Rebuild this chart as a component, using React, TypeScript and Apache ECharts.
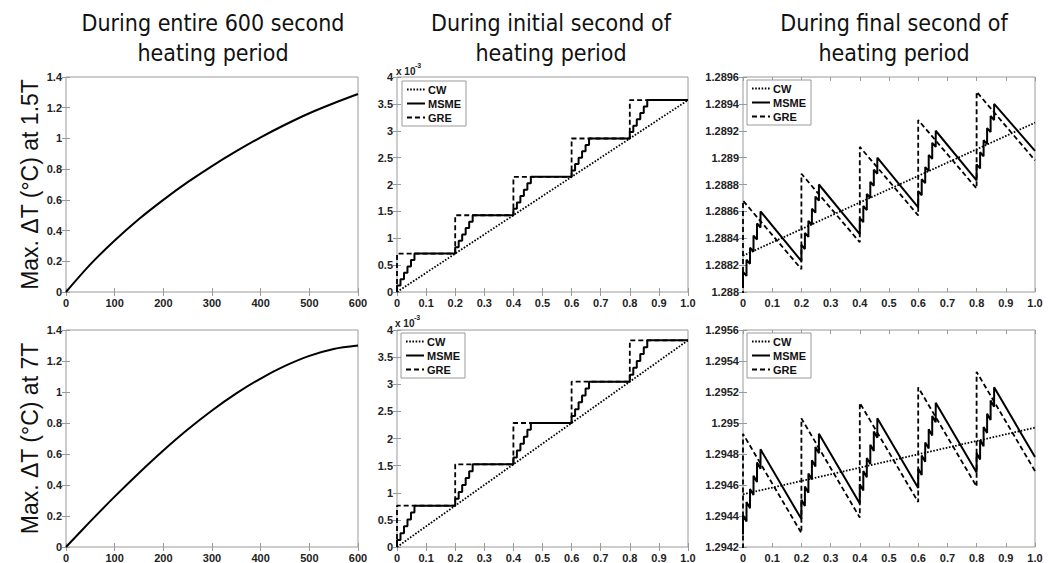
import React, { useEffect, useRef } from "react";
import * as echarts from "echarts";

// ---------------- DATA ----------------
// Left column: whole 600 s heating period (seconds, °C)
const entireTime = [0, 50, 100, 150, 200, 250, 300, 350, 400, 450, 500, 550, 600];
const entire15T = [0, 0.18, 0.335, 0.475, 0.6, 0.715, 0.82, 0.917, 1.007, 1.089, 1.164, 1.229, 1.289];
const entire7T = [0, 0.165, 0.325, 0.478, 0.623, 0.758, 0.881, 0.991, 1.087, 1.168, 1.233, 1.278, 1.3];

// Middle column: initial second (values in units of 1e-3 °C); step lines (jump time, level after jump)
const initCW15 = [[0, 0], [1.0, 3.57]];
const initMSME15 = [
  [0, 0], [0, 0.119], [0.012, 0.238], [0.024, 0.357], [0.036, 0.476], [0.048, 0.595], [0.06, 0.714],
  [0.2, 0.833], [0.212, 0.952], [0.224, 1.071], [0.236, 1.19], [0.248, 1.309], [0.26, 1.428],
  [0.4, 1.547], [0.412, 1.666], [0.424, 1.785], [0.436, 1.904], [0.448, 2.023], [0.46, 2.142],
  [0.6, 2.261], [0.612, 2.38], [0.624, 2.499], [0.636, 2.618], [0.648, 2.737], [0.66, 2.856],
  [0.8, 2.975], [0.812, 3.094], [0.824, 3.213], [0.836, 3.332], [0.848, 3.451], [0.86, 3.57],
  [1.0, 3.57],
];
const initGRE15 = [[0, 0], [0, 0.714], [0.2, 1.428], [0.4, 2.142], [0.6, 2.856], [0.8, 3.57], [1.0, 3.57]];

const initCW7 = [[0, 0], [1.0, 3.81]];
const initMSME7 = [
  [0, 0], [0, 0.127], [0.012, 0.254], [0.024, 0.381], [0.036, 0.508], [0.048, 0.635], [0.06, 0.762],
  [0.2, 0.889], [0.212, 1.016], [0.224, 1.143], [0.236, 1.27], [0.248, 1.397], [0.26, 1.524],
  [0.4, 1.651], [0.412, 1.778], [0.424, 1.905], [0.436, 2.032], [0.448, 2.159], [0.46, 2.286],
  [0.6, 2.413], [0.612, 2.54], [0.624, 2.667], [0.636, 2.794], [0.648, 2.921], [0.66, 3.048],
  [0.8, 3.175], [0.812, 3.302], [0.824, 3.429], [0.836, 3.556], [0.848, 3.683], [0.86, 3.81],
  [1.0, 3.81],
];
const initGRE7 = [[0, 0], [0, 0.762], [0.2, 1.524], [0.4, 2.286], [0.6, 3.048], [0.8, 3.81], [1.0, 3.81]];

// Right column: final second (°C)
const finalCW15 = [[0, 1.28827], [1.0, 1.28926]];
const finalMSME15 = [
  [0, 1.28803], [0, 1.28815], [0.012, 1.28812], [0.012, 1.28824], [0.024, 1.28821], [0.024, 1.28833],
  [0.036, 1.2883], [0.036, 1.28842], [0.048, 1.28839], [0.048, 1.28851], [0.06, 1.28848], [0.06, 1.2886],
  [0.2, 1.28823], [0.2, 1.28835], [0.212, 1.28832], [0.212, 1.28844], [0.224, 1.28841], [0.224, 1.28853],
  [0.236, 1.2885], [0.236, 1.28862], [0.248, 1.28859], [0.248, 1.28871], [0.26, 1.28868], [0.26, 1.2888],
  [0.4, 1.28843], [0.4, 1.28855], [0.412, 1.28852], [0.412, 1.28864], [0.424, 1.28861], [0.424, 1.28873],
  [0.436, 1.2887], [0.436, 1.28882], [0.448, 1.28879], [0.448, 1.28891], [0.46, 1.28888], [0.46, 1.289],
  [0.6, 1.28863], [0.6, 1.28875], [0.612, 1.28872], [0.612, 1.28884], [0.624, 1.28881], [0.624, 1.28893],
  [0.636, 1.2889], [0.636, 1.28902], [0.648, 1.28899], [0.648, 1.28911], [0.66, 1.28908], [0.66, 1.2892],
  [0.8, 1.28883], [0.8, 1.28895], [0.812, 1.28892], [0.812, 1.28904], [0.824, 1.28901], [0.824, 1.28913],
  [0.836, 1.2891], [0.836, 1.28922], [0.848, 1.28919], [0.848, 1.28931], [0.86, 1.28928], [0.86, 1.2894],
  [1.0, 1.28905],
];
const finalGRE15 = [
  [0, 1.28797], [0, 1.28868], [0.2, 1.28817], [0.2, 1.28888], [0.4, 1.28837], [0.4, 1.28908],
  [0.6, 1.28857], [0.6, 1.28928], [0.8, 1.28877], [0.8, 1.28949], [1.0, 1.28898],
];

const finalCW7 = [[0, 1.29454], [1.0, 1.29497]];
const finalMSME7 = [
  [0, 1.29428], [0, 1.294405], [0.012, 1.294365], [0.012, 1.29449], [0.024, 1.29445], [0.024, 1.294575],
  [0.036, 1.294535], [0.036, 1.29466], [0.048, 1.29462], [0.048, 1.294745], [0.06, 1.294705], [0.06, 1.29483],
  [0.2, 1.29438], [0.2, 1.294505], [0.212, 1.294465], [0.212, 1.29459], [0.224, 1.29455], [0.224, 1.294675],
  [0.236, 1.294635], [0.236, 1.29476], [0.248, 1.29472], [0.248, 1.294845], [0.26, 1.294805], [0.26, 1.29493],
  [0.4, 1.29448], [0.4, 1.294605], [0.412, 1.294565], [0.412, 1.29469], [0.424, 1.29465], [0.424, 1.294775],
  [0.436, 1.294735], [0.436, 1.29486], [0.448, 1.29482], [0.448, 1.294945], [0.46, 1.294905], [0.46, 1.29503],
  [0.6, 1.29458], [0.6, 1.294705], [0.612, 1.294665], [0.612, 1.29479], [0.624, 1.29475], [0.624, 1.294875],
  [0.636, 1.294835], [0.636, 1.29496], [0.648, 1.29492], [0.648, 1.295045], [0.66, 1.295005], [0.66, 1.29513],
  [0.8, 1.29468], [0.8, 1.294805], [0.812, 1.294765], [0.812, 1.29489], [0.824, 1.29485], [0.824, 1.294975],
  [0.836, 1.294935], [0.836, 1.29506], [0.848, 1.29502], [0.848, 1.295145], [0.86, 1.295105], [0.86, 1.29523],
  [1.0, 1.29478],
];
const finalGRE7 = [
  [0, 1.29419], [0, 1.29493], [0.2, 1.29429], [0.2, 1.29503], [0.4, 1.29439], [0.4, 1.29513],
  [0.6, 1.29449], [0.6, 1.29523], [0.8, 1.29459], [0.8, 1.29533], [1.0, 1.29469],
];

const columnTitles = [
  ["During entire 600 second", "heating period"],
  ["During initial second of", "heating period"],
  ["During final second of", "heating period"],
];
const rowLabels = ["Max. \u0394T (\u00B0C) at 1.5T", "Max. \u0394T (\u00B0C) at 7T"];
const legendNames = ["CW", "MSME", "GRE"];

// ---------------- STYLE / LAYOUT ----------------
const tickFont = "'Liberation Sans', Arial, sans-serif";
const titleFont = "'Liberation Sans Narrow', 'DejaVu Sans Condensed', 'Open Sans', sans-serif";
const frame = "#9a9a9a";

const colLeft = [66, 397, 743];
const colWidth = [292, 291, 292];
const rowTop = [77, 330];
const rowHeight = [215, 218];
const colCenter = [213, 551, 894];

const fmt1 = (v: number) => String(parseFloat(v.toFixed(1)));
const fmtX1 = (v: number) => (v === 0 ? "0" : v.toFixed(1));
const fmt4 = (v: number) => String(parseFloat(v.toFixed(4)));

export default function App() {
  const ref = useRef<HTMLDivElement>(null);

  useEffect(() => {
    document.body.style.margin = "0";
    if (!ref.current) return;
    const chart = echarts.init(ref.current, undefined, { renderer: "svg" });

    const axesSpec = [
      { x: { min: 0, max: 600, interval: 100, f: (v: number) => String(v) }, y: { min: 0, max: 1.4, interval: 0.2, f: fmt1 } },
      { x: { min: 0, max: 1, interval: 0.1, f: fmtX1 }, y: { min: 0, max: 4, interval: 0.5, f: fmt1 } },
      { x: { min: 0, max: 1, interval: 0.1, f: fmtX1 }, y: { min: 1.288, max: 1.2896, interval: 0.0002, f: fmt4 } },
      { x: { min: 0, max: 600, interval: 100, f: (v: number) => String(v) }, y: { min: 0, max: 1.4, interval: 0.2, f: fmt1 } },
      { x: { min: 0, max: 1, interval: 0.1, f: fmtX1 }, y: { min: 0, max: 4, interval: 0.5, f: fmt1 } },
      { x: { min: 0, max: 1, interval: 0.1, f: fmtX1 }, y: { min: 1.2942, max: 1.2956, interval: 0.0002, f: fmt4 } },
    ];

    const grids: any[] = [];
    const xAxes: any[] = [];
    const yAxes: any[] = [];
    axesSpec.forEach((a, i) => {
      const r = Math.floor(i / 3);
      const c = i % 3;
      grids.push({
        left: colLeft[c], top: rowTop[r], width: colWidth[c], height: rowHeight[r],
        show: true, borderColor: frame, borderWidth: 1, backgroundColor: "#fff",
      });
      const tick = { show: true, inside: true, length: 4, lineStyle: { color: frame } };
      const label = { fontFamily: tickFont, fontWeight: "bold", fontSize: 11, color: "#222" };
      xAxes.push({
        type: "value", gridIndex: i, min: a.x.min, max: a.x.max, interval: a.x.interval,
        axisLine: { show: false }, splitLine: { show: false }, axisTick: tick,
        axisLabel: { ...label, margin: 5, formatter: a.x.f, showMaxLabel: true, showMinLabel: true },
      });
      yAxes.push({
        type: "value", gridIndex: i, min: a.y.min, max: a.y.max, interval: a.y.interval,
        axisLine: { show: false }, splitLine: { show: false }, axisTick: tick,
        axisLabel: { ...label, margin: 4, formatter: a.y.f, showMaxLabel: true, showMinLabel: true },
        ...(c === 0
          ? {
              name: rowLabels[r], nameLocation: "middle", nameGap: 25,
              nameTextStyle: { fontFamily: tickFont, fontSize: 23, color: "#111" },
            }
          : {}),
      });
    });
    // mirrored ticks (top / right) like a boxed MATLAB axes
    axesSpec.forEach((a, i) => {
      const tick = { show: true, inside: true, length: 4, lineStyle: { color: frame } };
      xAxes.push({
        type: "value", gridIndex: i, position: "top", min: a.x.min, max: a.x.max, interval: a.x.interval,
        axisLine: { show: false }, splitLine: { show: false }, axisTick: tick, axisLabel: { show: false },
      });
      yAxes.push({
        type: "value", gridIndex: i, position: "right", min: a.y.min, max: a.y.max, interval: a.y.interval,
        axisLine: { show: false }, splitLine: { show: false }, axisTick: tick, axisLabel: { show: false },
      });
    });

    const black = "#000";
    const dotted = { color: black, width: 1.8, type: [1.6, 1.6] };
    const solid = { color: black, width: 2, type: "solid" };
    const dashed = { color: black, width: 1.8, type: [5, 3] };
    const base = {
      type: "line", symbol: "none", showSymbol: false, silent: true, clip: true,
      itemStyle: { color: black },
    };

    const series: any[] = [
      { ...base, name: "T15", xAxisIndex: 0, yAxisIndex: 0, smooth: 0.3,
        data: entireTime.map((t, k) => [t, entire15T[k]]), lineStyle: solid },
      { ...base, name: "T7", xAxisIndex: 3, yAxisIndex: 3, smooth: 0.3,
        data: entireTime.map((t, k) => [t, entire7T[k]]), lineStyle: solid },

      { ...base, name: "CW", xAxisIndex: 1, yAxisIndex: 1, data: initCW15, lineStyle: dotted },
      { ...base, name: "MSME", xAxisIndex: 1, yAxisIndex: 1, step: "end", data: initMSME15, lineStyle: solid },
      { ...base, name: "GRE", xAxisIndex: 1, yAxisIndex: 1, step: "end", data: initGRE15, lineStyle: dashed },

      { ...base, name: "CW", xAxisIndex: 4, yAxisIndex: 4, data: initCW7, lineStyle: dotted },
      { ...base, name: "MSME", xAxisIndex: 4, yAxisIndex: 4, step: "end", data: initMSME7, lineStyle: solid },
      { ...base, name: "GRE", xAxisIndex: 4, yAxisIndex: 4, step: "end", data: initGRE7, lineStyle: dashed },

      { ...base, name: "CW", xAxisIndex: 2, yAxisIndex: 2, data: finalCW15, lineStyle: dotted },
      { ...base, name: "MSME", xAxisIndex: 2, yAxisIndex: 2, data: finalMSME15, lineStyle: solid },
      { ...base, name: "GRE", xAxisIndex: 2, yAxisIndex: 2, data: finalGRE15, lineStyle: dashed },

      { ...base, name: "CW", xAxisIndex: 5, yAxisIndex: 5, data: finalCW7, lineStyle: dotted },
      { ...base, name: "MSME", xAxisIndex: 5, yAxisIndex: 5, data: finalMSME7, lineStyle: solid },
      { ...base, name: "GRE", xAxisIndex: 5, yAxisIndex: 5, data: finalGRE7, lineStyle: dashed },
    ];

    const legendPos = [
      { left: 402, top: 81 },
      { left: 747, top: 80 },
      { left: 401, top: 333 },
      { left: 747, top: 333 },
    ];
    const legends = legendPos.map((p) => ({
      ...p,
      data: legendNames,
      orient: "vertical",
      selectedMode: false,
      itemWidth: 18,
      itemHeight: 10,
      itemGap: 3,
      padding: [3, 5, 3, 4],
      borderColor: frame,
      borderWidth: 1,
      backgroundColor: "#fff",
      itemStyle: { opacity: 0 },
      textStyle: { fontFamily: tickFont, fontWeight: "bold", fontSize: 11, color: "#111", padding: [0, 0, 0, -2] },
    }));

    const graphics: any[] = [];
    columnTitles.forEach((lines, c) => {
      lines.forEach((ln, k) => {
        graphics.push({
          type: "text", x: colCenter[c], y: 23 + k * 30, silent: true,
          style: { text: ln, fontFamily: titleFont, fontSize: 23, fill: "#111", align: "center", verticalAlign: "middle" },
        });
      });
    });
    [[396, 71], [395, 323]].forEach(([x, y]) => {
      graphics.push({
        type: "text", x, y, silent: true,
        style: { text: "x 10", fontFamily: tickFont, fontWeight: "bold", fontSize: 10, fill: "#222", verticalAlign: "middle" },
      });
      graphics.push({
        type: "text", x: x + 19, y: y - 6, silent: true,
        style: { text: "-3", fontFamily: tickFont, fontWeight: "bold", fontSize: 7, fill: "#222", verticalAlign: "middle" },
      });
    });

    chart.setOption({
      animation: false,
      backgroundColor: "#fff",
      grid: grids,
      xAxis: xAxes,
      yAxis: yAxes,
      series,
      legend: legends,
      graphic: graphics,
    });

    return () => chart.dispose();
  }, []);

  return <div ref={ref} style={{ width: 1050, height: 563 }} />;
}
